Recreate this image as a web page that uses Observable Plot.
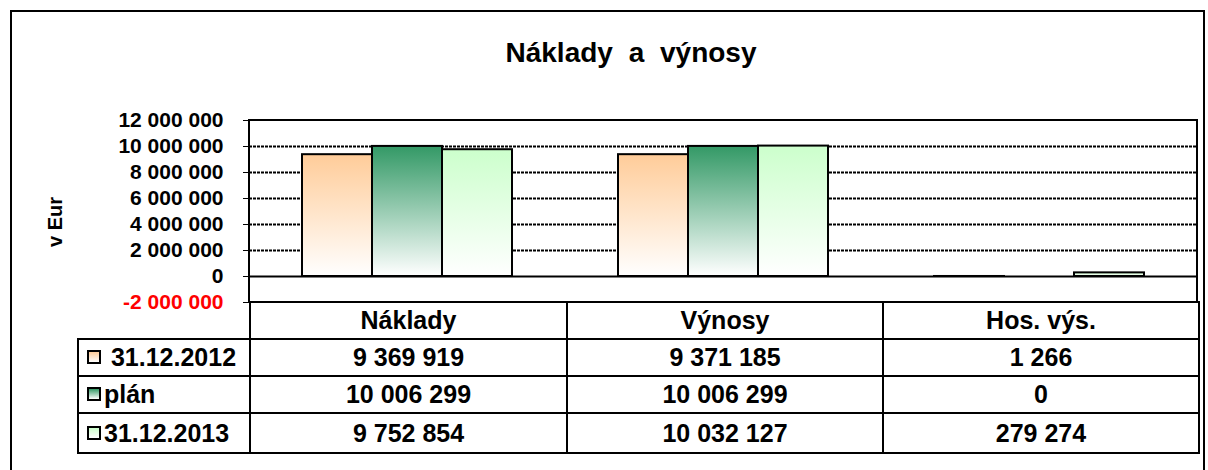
<!DOCTYPE html>
<html>
<head>
<meta charset="utf-8">
<script src="https://cdn.jsdelivr.net/npm/d3@7"></script>
<script src="https://cdn.jsdelivr.net/npm/@observablehq/plot@0.6"></script>
<style>
  body { margin: 0; background: #fff; font-family: "Liberation Sans", Arial, sans-serif; }
  #wrap { position: relative; width: 1208px; height: 470px; overflow: hidden; background: #fff; }
  #frame { position: absolute; left: 10px; top: 10px; width: 1195px; height: 490px; border: 2px solid #000; box-sizing: border-box; }
  #title { position: absolute; left: 0; width: 1262px; top: 39px; text-align: center; font: bold 28px/28px "Liberation Sans", Arial, sans-serif; word-spacing: 8px; color: #000; }
  #ylab { position: absolute; left: 55px; top: 222px; transform: translate(-50%, -50%) rotate(-90deg); font: bold 20px/20px "Liberation Sans", Arial, sans-serif; white-space: nowrap; color: #000; }
  #chart { position: absolute; left: 0; top: 0; }
  #plotbox { position: absolute; left: 248px; top: 119px; width: 950px; height: 184px; border: 2px solid #000; border-bottom: none; box-sizing: border-box; pointer-events: none; }
  #tbl { position: absolute; left: 77px; top: 301px; border-collapse: collapse; table-layout: fixed; width: 1121px; font: bold 25px/1 "Liberation Sans", Arial, sans-serif; color: #000; }
  #tbl td { border: 2px solid #000; padding: 0; text-align: center; white-space: pre; overflow: hidden; }
  #tbl td.empty { border: none; }
  #tbl td.leg { text-align: left; }
  .key { display: inline-block; width: 10px; height: 10px; border: 2px solid #000; margin-left: 8px; margin-right: 3px; vertical-align: 2px; }
</style>
</head>
<body>
<div id="wrap">
  <div id="frame"></div>
  <div id="title"></div>
  <div id="ylab"></div>
  <div id="chart"></div>
  <div id="plotbox"></div>
  <table id="tbl"></table>
</div>
<script>
// ---- data ----
const chartTitle = "Náklady a výnosy";
const yLabel = "v Eur";
const categories = ["Náklady", "Výnosy", "Hos. výs."];
const series = [" 31.12.2012", "plán", "31.12.2013"];
const values2012 = [9369919, 9371185, 1266];
const valuesPlan = [10006299, 10006299, 0];
const values2013 = [9752854, 10032127, 279274];
const yTicks = [-2000000, 0, 2000000, 4000000, 6000000, 8000000, 10000000, 12000000];
const gridTicks = [2000000, 4000000, 6000000, 8000000, 10000000];
const topColors = ["#FFCC99", "#339966", "#CCFFCC"];

const seriesValues = [values2012, valuesPlan, values2013];
const data = categories.flatMap((c, i) => series.map((s, j) => ({category: c, series: s, value: seriesValues[j][i]})));

const locale = d3.formatLocale({decimal: ",", thousands: " ", grouping: [3], currency: ["", " €"], minus: "-"});
const fmt = locale.format(",d");

document.getElementById("title").textContent = chartTitle;
document.getElementById("ylab").textContent = yLabel;

const gradIds = series.map((s, i) => "grad" + i);

const svg = Plot.plot({
  width: 1208,
  height: 470,
  marginLeft: 249,
  marginRight: 11,
  marginTop: 120,
  marginBottom: 168,
  style: {font: 'bold 21px "Liberation Sans", Arial, sans-serif', color: "#000", background: "transparent", overflow: "visible"},
  facet: {data, x: "category"},
  fx: {domain: categories, padding: 0, axis: null, label: null},
  x: {domain: series, paddingInner: 0, paddingOuter: 0.757, axis: null, label: null},
  y: {domain: [-2000000, 12000000], ticks: yTicks, tickFormat: fmt, tickSize: 6, tickPadding: 20, label: null},
  color: {domain: series, range: gradIds.map(id => `url(#${id})`)},
  marks: [
    Plot.ruleY(gridTicks, {stroke: "#000", strokeWidth: 2, strokeDasharray: "3,1"}),
    Plot.ruleY([0], {stroke: "#000", strokeWidth: 2}),
    Plot.barY(data, {x: "series", y: "value", fill: "series", stroke: "#000", strokeWidth: 2})
  ]
});

const s = d3.select(svg);
const defs = s.insert("defs", ":first-child");
gradIds.forEach((id, i) => {
  const g = defs.append("linearGradient").attr("id", id).attr("x1", 0).attr("y1", 0).attr("x2", 0).attr("y2", 1);
  g.append("stop").attr("offset", "0%").attr("stop-color", topColors[i]);
  g.append("stop").attr("offset", "100%").attr("stop-color", "#FFFFFF");
});
const negLabel = fmt(yTicks[0]);
s.selectAll("text").filter(function() { return this.textContent === negLabel; }).attr("fill", "#FF0000");
s.selectAll("text").attr("font-weight", "bold");
document.getElementById("chart").appendChild(svg);

// ---- data table ----
const tbl = document.getElementById("tbl");
const colW = [172, 317, 316, 316];
const cg = document.createElement("colgroup");
colW.forEach(w => { const c = document.createElement("col"); c.style.width = w + "px"; cg.appendChild(c); });
tbl.appendChild(cg);
const hr = document.createElement("tr");
hr.style.height = "37px";
const e = document.createElement("td"); e.className = "empty"; hr.appendChild(e);
categories.forEach(c => { const td = document.createElement("td"); td.textContent = c; hr.appendChild(td); });
tbl.appendChild(hr);
series.forEach((sName, j) => {
  const tr = document.createElement("tr");
  tr.style.height = j === 2 ? "40px" : "37px";
  const lt = document.createElement("td"); lt.className = "leg";
  const key = document.createElement("span"); key.className = "key";
  key.style.background = `linear-gradient(to bottom, ${topColors[j]}, #FFFFFF)`;
  lt.appendChild(key);
  lt.appendChild(document.createTextNode(sName));
  tr.appendChild(lt);
  seriesValues[j].forEach(v => { const td = document.createElement("td"); td.textContent = fmt(v); tr.appendChild(td); });
  tbl.appendChild(tr);
});
</script>
</body>
</html>
